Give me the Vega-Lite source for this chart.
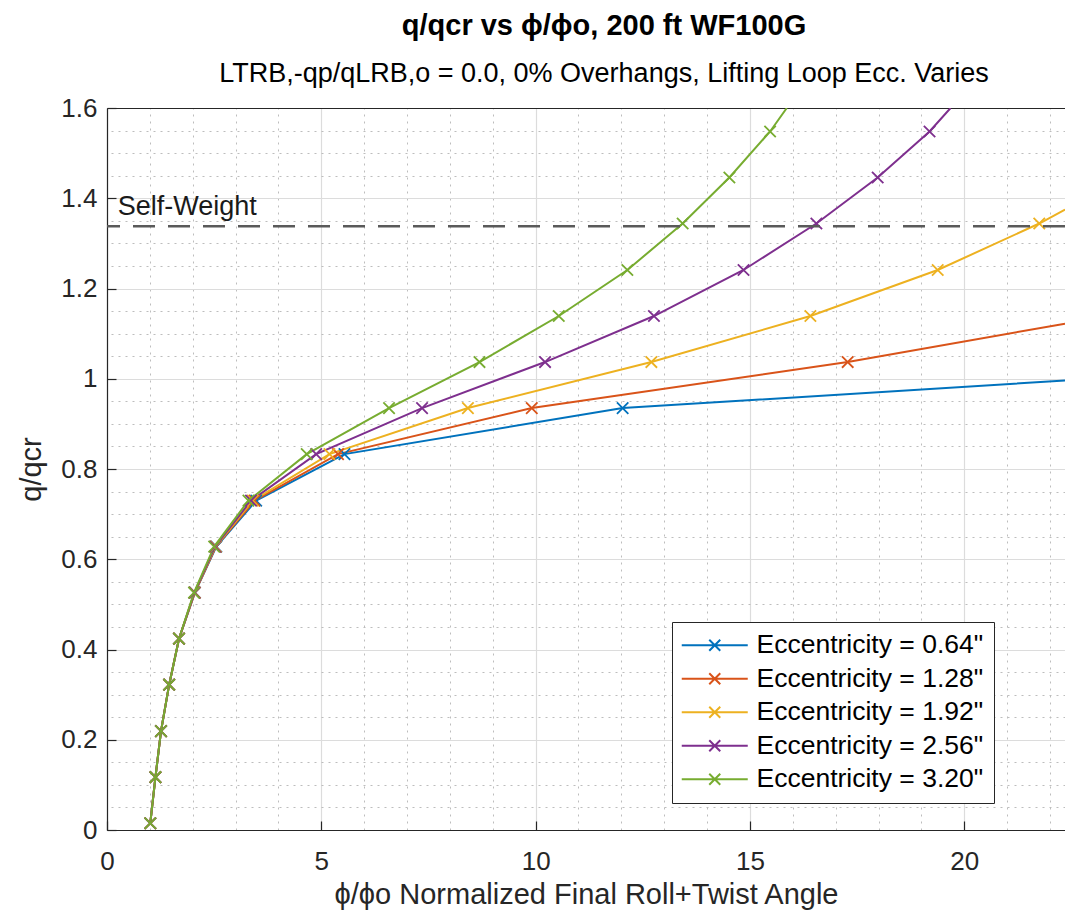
{
  "$schema": "https://vega.github.io/schema/vega-lite/v6.json",
  "width": 958,
  "height": 722,
  "autosize": {"type": "none"},
  "padding": {"left": 107, "top": 108, "right": 0, "bottom": 85},
  "background": "white",
  "config": {
    "view": {"stroke": null},
    "font": "Liberation Sans"
  },
  "title": {
    "text": "q/qcr vs ϕ/ϕo, 200 ft WF100G",
    "subtitle": "LTRB,-qp/qLRB,o = 0.0, 0% Overhangs, Lifting Loop Ecc. Varies",
    "font": "Liberation Sans",
    "fontSize": 29,
    "fontWeight": "bold",
    "color": "black",
    "subtitleFont": "Liberation Sans",
    "subtitleFontSize": 27,
    "subtitleColor": "black",
    "subtitlePadding": 20,
    "offset": 8,
    "anchor": "middle",
    "dx": 18
  },
  "datasets": {
    "curves": [
      {"series": "Eccentricity = 0.64\"", "phi": 1.01, "q": 0.015},
      {"series": "Eccentricity = 0.64\"", "phi": 1.13, "q": 0.117},
      {"series": "Eccentricity = 0.64\"", "phi": 1.26, "q": 0.219},
      {"series": "Eccentricity = 0.64\"", "phi": 1.45, "q": 0.322},
      {"series": "Eccentricity = 0.64\"", "phi": 1.68, "q": 0.424},
      {"series": "Eccentricity = 0.64\"", "phi": 2.05, "q": 0.526},
      {"series": "Eccentricity = 0.64\"", "phi": 2.55, "q": 0.628},
      {"series": "Eccentricity = 0.64\"", "phi": 3.48, "q": 0.730},
      {"series": "Eccentricity = 0.64\"", "phi": 5.54, "q": 0.833},
      {"series": "Eccentricity = 0.64\"", "phi": 12.03, "q": 0.935},
      {"series": "Eccentricity = 0.64\"", "phi": 22.35, "q": 0.996},

      {"series": "Eccentricity = 1.28\"", "phi": 1.01, "q": 0.015},
      {"series": "Eccentricity = 1.28\"", "phi": 1.13, "q": 0.117},
      {"series": "Eccentricity = 1.28\"", "phi": 1.26, "q": 0.219},
      {"series": "Eccentricity = 1.28\"", "phi": 1.45, "q": 0.322},
      {"series": "Eccentricity = 1.28\"", "phi": 1.68, "q": 0.424},
      {"series": "Eccentricity = 1.28\"", "phi": 2.05, "q": 0.526},
      {"series": "Eccentricity = 1.28\"", "phi": 2.54, "q": 0.628},
      {"series": "Eccentricity = 1.28\"", "phi": 3.44, "q": 0.730},
      {"series": "Eccentricity = 1.28\"", "phi": 5.39, "q": 0.833},
      {"series": "Eccentricity = 1.28\"", "phi": 9.91, "q": 0.935},
      {"series": "Eccentricity = 1.28\"", "phi": 17.28, "q": 1.037},
      {"series": "Eccentricity = 1.28\"", "phi": 22.35, "q": 1.122},

      {"series": "Eccentricity = 1.92\"", "phi": 1.01, "q": 0.015},
      {"series": "Eccentricity = 1.92\"", "phi": 1.13, "q": 0.117},
      {"series": "Eccentricity = 1.92\"", "phi": 1.26, "q": 0.219},
      {"series": "Eccentricity = 1.92\"", "phi": 1.45, "q": 0.322},
      {"series": "Eccentricity = 1.92\"", "phi": 1.68, "q": 0.424},
      {"series": "Eccentricity = 1.92\"", "phi": 2.04, "q": 0.526},
      {"series": "Eccentricity = 1.92\"", "phi": 2.53, "q": 0.628},
      {"series": "Eccentricity = 1.92\"", "phi": 3.40, "q": 0.730},
      {"series": "Eccentricity = 1.92\"", "phi": 5.19, "q": 0.833},
      {"series": "Eccentricity = 1.92\"", "phi": 8.42, "q": 0.935},
      {"series": "Eccentricity = 1.92\"", "phi": 12.70, "q": 1.037},
      {"series": "Eccentricity = 1.92\"", "phi": 16.41, "q": 1.139},
      {"series": "Eccentricity = 1.92\"", "phi": 19.38, "q": 1.241},
      {"series": "Eccentricity = 1.92\"", "phi": 21.75, "q": 1.344},
      {"series": "Eccentricity = 1.92\"", "phi": 22.35, "q": 1.375},

      {"series": "Eccentricity = 2.56\"", "phi": 1.01, "q": 0.015},
      {"series": "Eccentricity = 2.56\"", "phi": 1.13, "q": 0.117},
      {"series": "Eccentricity = 2.56\"", "phi": 1.26, "q": 0.219},
      {"series": "Eccentricity = 2.56\"", "phi": 1.45, "q": 0.322},
      {"series": "Eccentricity = 2.56\"", "phi": 1.68, "q": 0.424},
      {"series": "Eccentricity = 2.56\"", "phi": 2.04, "q": 0.526},
      {"series": "Eccentricity = 2.56\"", "phi": 2.52, "q": 0.628},
      {"series": "Eccentricity = 2.56\"", "phi": 3.36, "q": 0.730},
      {"series": "Eccentricity = 2.56\"", "phi": 4.88, "q": 0.833},
      {"series": "Eccentricity = 2.56\"", "phi": 7.35, "q": 0.935},
      {"series": "Eccentricity = 2.56\"", "phi": 10.22, "q": 1.037},
      {"series": "Eccentricity = 2.56\"", "phi": 12.76, "q": 1.139},
      {"series": "Eccentricity = 2.56\"", "phi": 14.85, "q": 1.241},
      {"series": "Eccentricity = 2.56\"", "phi": 16.55, "q": 1.344},
      {"series": "Eccentricity = 2.56\"", "phi": 17.98, "q": 1.446},
      {"series": "Eccentricity = 2.56\"", "phi": 19.19, "q": 1.548},
      {"series": "Eccentricity = 2.56\"", "phi": 19.68, "q": 1.6},

      {"series": "Eccentricity = 3.20\"", "phi": 1.01, "q": 0.015},
      {"series": "Eccentricity = 3.20\"", "phi": 1.13, "q": 0.117},
      {"series": "Eccentricity = 3.20\"", "phi": 1.26, "q": 0.219},
      {"series": "Eccentricity = 3.20\"", "phi": 1.45, "q": 0.322},
      {"series": "Eccentricity = 3.20\"", "phi": 1.68, "q": 0.424},
      {"series": "Eccentricity = 3.20\"", "phi": 2.03, "q": 0.526},
      {"series": "Eccentricity = 3.20\"", "phi": 2.50, "q": 0.628},
      {"series": "Eccentricity = 3.20\"", "phi": 3.30, "q": 0.730},
      {"series": "Eccentricity = 3.20\"", "phi": 4.66, "q": 0.833},
      {"series": "Eccentricity = 3.20\"", "phi": 6.58, "q": 0.935},
      {"series": "Eccentricity = 3.20\"", "phi": 8.69, "q": 1.037},
      {"series": "Eccentricity = 3.20\"", "phi": 10.54, "q": 1.139},
      {"series": "Eccentricity = 3.20\"", "phi": 12.14, "q": 1.241},
      {"series": "Eccentricity = 3.20\"", "phi": 13.43, "q": 1.344},
      {"series": "Eccentricity = 3.20\"", "phi": 14.52, "q": 1.446},
      {"series": "Eccentricity = 3.20\"", "phi": 15.47, "q": 1.548},
      {"series": "Eccentricity = 3.20\"", "phi": 15.86, "q": 1.6}
    ],
    "reference": [
      {"label": "Self-Weight", "q": 1.338}
    ]
  },
  "layer": [
    {
      "data": {"name": "curves"},
      "encoding": {
        "x": {
          "field": "phi", "type": "quantitative",
          "scale": {"domain": [0, 22.35], "nice": false, "zero": false},
          "axis": {
            "orient": "bottom",
            "values": [0, 5, 10, 15, 20],
            "format": "~g",
            "labelFlush": false,
            "title": "ϕ/ϕo Normalized Final Roll+Twist Angle",
            "titleFont": "Liberation Sans", "titleFontSize": 29, "titleFontWeight": "normal", "titleColor": "#262626",
            "titlePadding": 6,
            "labelFont": "Liberation Sans", "labelFontSize": 26, "labelColor": "#262626",
            "labelPadding": 27,
            "grid": true, "gridColor": "#dcdcdc", "gridWidth": 1.2,
            "domain": true, "domainColor": "#262626", "domainWidth": 1.2,
            "ticks": true, "tickSize": -9, "tickColor": "#262626", "tickWidth": 1.2
          }
        },
        "y": {
          "field": "q", "type": "quantitative",
          "scale": {"domain": [0, 1.6], "nice": false, "zero": false},
          "axis": {
            "orient": "left",
            "values": [0, 0.2, 0.4, 0.6, 0.8, 1, 1.2, 1.4, 1.6],
            "format": "~g",
            "labelFlush": false,
            "title": "q/qcr",
            "titleFont": "Liberation Sans", "titleFontSize": 29, "titleFontWeight": "normal", "titleColor": "#262626",
            "titlePadding": 14,
            "labelFont": "Liberation Sans", "labelFontSize": 26, "labelColor": "#262626",
            "labelPadding": 19,
            "grid": true, "gridColor": "#dcdcdc", "gridWidth": 1.2,
            "domain": true, "domainColor": "#262626", "domainWidth": 1.2,
            "ticks": true, "tickSize": -9, "tickColor": "#262626", "tickWidth": 1.2
          }
        },
        "color": {
          "field": "series", "type": "nominal",
          "scale": {
            "domain": ["Eccentricity = 0.64\"", "Eccentricity = 1.28\"", "Eccentricity = 1.92\"", "Eccentricity = 2.56\"", "Eccentricity = 3.20\""],
            "range": ["#0072BD", "#D95319", "#EDB120", "#7E2F8E", "#77AC30"]
          },
          "legend": {
            "orient": "none",
            "legendX": 565,
            "legendY": 514,
            "title": null,
            "symbolType": "M-6,0H6M-1,-1L1,1M-1,1L1,-1",
            "symbolSize": 121,
            "symbolStrokeWidth": 2,
            "symbolOffset": 19.5,
            "labelOffset": 28.5,
            "labelFont": "Liberation Sans",
            "labelFontSize": 26.5,
            "labelColor": "black",
            "labelLimit": 400,
            "padding": 10,
            "rowPadding": 6.5,
            "strokeColor": "#262626",
            "fillColor": "white",
            "cornerRadius": 0
          }
        }
      },
      "layer": [
        {"mark": {"type": "line", "strokeWidth": 2, "clip": true}},
        {
          "transform": [{"filter": "datum.phi < 22.3 && datum.q < 1.59"}],
          "mark": {"type": "point", "shape": "M-1,-1L1,1M-1,1L1,-1", "size": 130, "filled": false, "strokeWidth": 1.8, "opacity": 1}
        }
      ]
    },
    {
      "data": {"name": "reference"},
      "mark": {"type": "rule", "color": "#5a5a5a", "strokeWidth": 2.5, "strokeDash": [22, 13]},
      "encoding": {
        "y": {"field": "q", "type": "quantitative", "scale": {"domain": [0, 1.6], "nice": false, "zero": false}, "axis": null}
      }
    },
    {
      "data": {"name": "reference"},
      "mark": {"type": "text", "align": "left", "baseline": "alphabetic", "dy": -11, "font": "Liberation Sans", "fontSize": 27, "color": "#1a1a1a"},
      "encoding": {
        "x": {
          "datum": 0.25, "type": "quantitative",
          "scale": {"domain": [0, 22.35], "nice": false, "zero": false},
          "axis": {
            "orient": "top",
            "values": [1, 2, 3, 4, 6, 7, 8, 9, 11, 12, 13, 14, 16, 17, 18, 19, 21, 22],
            "labels": false, "ticks": false, "title": null,
            "grid": true, "gridColor": "#bdbdbd", "gridDash": [2, 5], "gridWidth": 1,
            "domain": true, "domainColor": "#262626", "domainWidth": 1.2
          }
        },
        "y": {
          "field": "q", "type": "quantitative",
          "scale": {"domain": [0, 1.6], "nice": false, "zero": false},
          "axis": {
            "orient": "right",
            "values": [0.05, 0.1, 0.15, 0.25, 0.3, 0.35, 0.45, 0.5, 0.55, 0.65, 0.7, 0.75, 0.85, 0.9, 0.95, 1.05, 1.1, 1.15, 1.25, 1.3, 1.35, 1.45, 1.5, 1.55],
            "labels": false, "ticks": false, "title": null, "domain": false,
            "grid": true, "gridColor": "#bdbdbd", "gridDash": [2, 5], "gridWidth": 1
          }
        },
        "text": {"field": "label", "type": "nominal"}
      }
    }
  ],
  "resolve": {"axis": {"x": "independent", "y": "independent"}}
}
